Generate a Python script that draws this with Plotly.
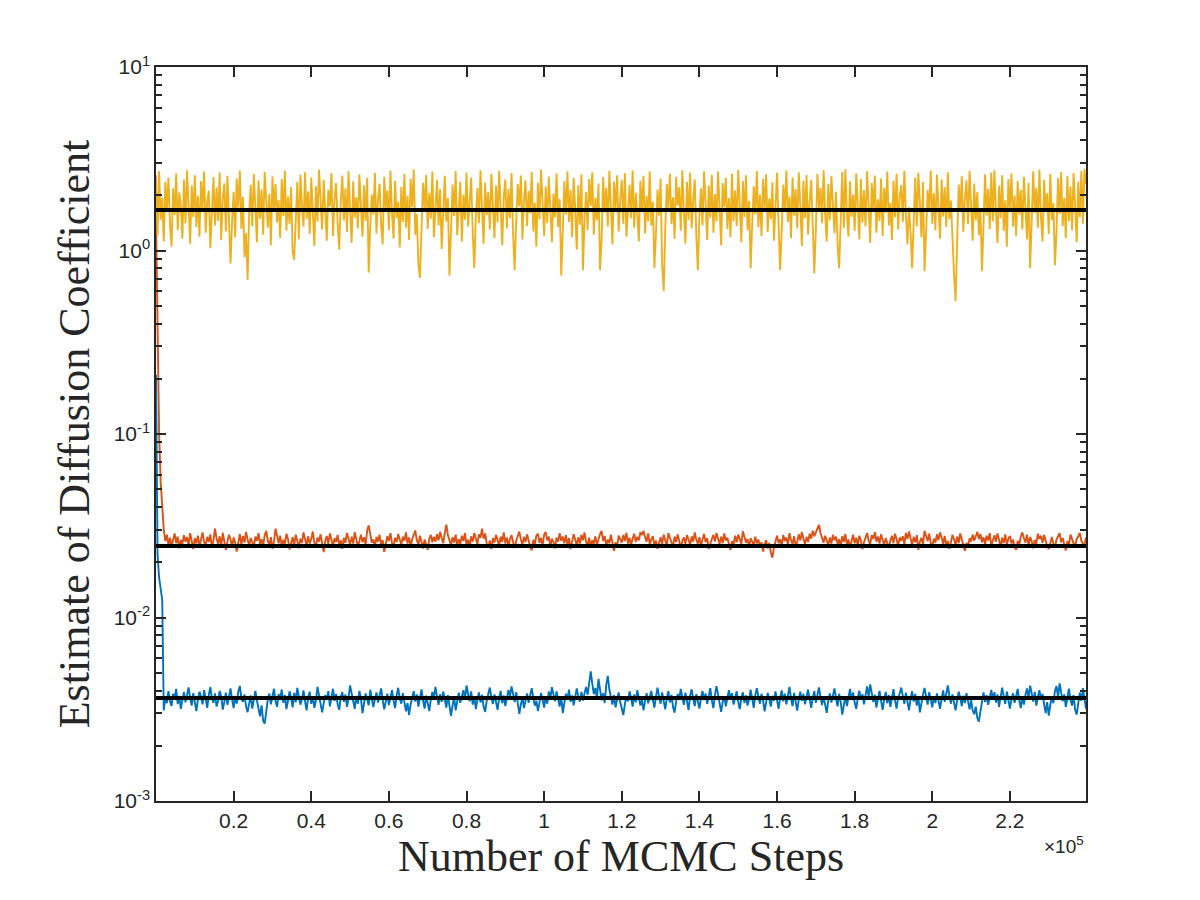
import plotly.graph_objects as go

# thinned MCMC chains: one stored sample every `thin` steps
thin = 400

blue = [0.21, 0.022, 0.0165, 0.0142, 0.0125, 0.00312, 0.00368, 0.00341, 0.00397, 0.00352, 0.00329, 0.00384, 0.00361, 0.00408, 0.00337, 0.00374, 0.00318, 0.00356, 0.00392, 0.00345,
        0.00379, 0.00416, 0.00363, 0.00331, 0.00387, 0.00349, 0.00309, 0.00358, 0.00394, 0.00371, 0.00336, 0.00402, 0.00355, 0.00322, 0.00377, 0.00418, 0.00364, 0.00343, 0.00386, 0.00327,
        0.00351, 0.00398, 0.00372, 0.00315, 0.00346, 0.00389, 0.00334, 0.00367, 0.00411, 0.00358, 0.00321, 0.00374, 0.00339, 0.00395, 0.00424, 0.00362, 0.00347, 0.00381, 0.00328, 0.00305,
        0.00342, 0.00376, 0.00319, 0.00364, 0.00398, 0.00353, 0.00311, 0.00289, 0.00332, 0.00274, 0.00264, 0.00318, 0.00357, 0.00385, 0.00336, 0.00371, 0.00409, 0.00348, 0.00326, 0.00383,
        0.00361, 0.00405, 0.00343, 0.00378, 0.00317, 0.00352, 0.00396, 0.00366, 0.00324, 0.00389, 0.00345, 0.00413, 0.00372, 0.00335, 0.00359, 0.00401, 0.00349, 0.00312, 0.00368, 0.00394,
        0.00338, 0.00373, 0.00322, 0.00354, 0.00419, 0.00382, 0.00346, 0.00304, 0.00341, 0.00377, 0.00359, 0.00397, 0.00328, 0.00365, 0.00409, 0.00351, 0.00383, 0.00337, 0.00314, 0.00369,
        0.00392, 0.00347, 0.00381, 0.00326, 0.00363, 0.00427, 0.00384, 0.00352, 0.00318, 0.00374, 0.00339, 0.00398, 0.00362, 0.00301, 0.00345, 0.00386, 0.00357, 0.00332, 0.00404, 0.00368,
        0.00325, 0.00359, 0.00391, 0.00344, 0.00379, 0.00411, 0.00356, 0.00316, 0.00348, 0.00385, 0.00333, 0.00367, 0.00402, 0.00353, 0.00321, 0.00376, 0.00414, 0.00362, 0.00339, 0.00387,
        0.00351, 0.00308, 0.00342, 0.00295, 0.00336, 0.00372, 0.00397, 0.00348, 0.00381, 0.00327, 0.00363, 0.00406, 0.00354, 0.00319, 0.00375, 0.00342, 0.00309, 0.00358, 0.00393, 0.00366,
        0.00418, 0.00371, 0.00334, 0.00382, 0.00347, 0.00395, 0.00361, 0.00323, 0.00378, 0.00339, 0.00291, 0.00331, 0.00368, 0.00312, 0.00354, 0.00389, 0.00343, 0.00376, 0.00402, 0.00357,
        0.00426, 0.00384, 0.00349, 0.00396, 0.00335, 0.00373, 0.00317, 0.00358, 0.00391, 0.00344, 0.00379, 0.00326, 0.00306, 0.00352, 0.00387, 0.00415, 0.00366, 0.00338, 0.00381, 0.00347,
        0.00314, 0.00363, 0.00398, 0.00341, 0.00376, 0.00329, 0.00357, 0.00403, 0.00371, 0.00421, 0.00383, 0.00346, 0.00392, 0.00337, 0.00298, 0.00335, 0.00369, 0.00321, 0.00358, 0.00386,
        0.00343, 0.00378, 0.00412, 0.00364, 0.00331, 0.00352, 0.00309, 0.00344, 0.00388, 0.00356, 0.00323, 0.00373, 0.00339, 0.00395, 0.00362, 0.00417, 0.00381, 0.00349, 0.00396, 0.00358,
        0.00327, 0.00371, 0.00301, 0.00342, 0.00384, 0.00359, 0.00405, 0.00347, 0.00376, 0.00332, 0.00364, 0.00411, 0.00372, 0.00348, 0.00393, 0.00353, 0.00386, 0.00418, 0.00379, 0.00452,
        0.00509, 0.00436, 0.00382, 0.00413, 0.00361, 0.00463, 0.00398, 0.00354, 0.00387, 0.00342, 0.00429, 0.00481, 0.00405, 0.00368, 0.00335, 0.00377, 0.00324, 0.00359, 0.00391, 0.00346,
        0.00318, 0.00294, 0.00337, 0.00372, 0.00349, 0.00396, 0.00363, 0.00327, 0.00381, 0.00345, 0.00402, 0.00366, 0.00331, 0.00357, 0.00312, 0.00352, 0.00387, 0.00341, 0.00374, 0.00398,
        0.00356, 0.00323, 0.00368, 0.00415, 0.00373, 0.00339, 0.00391, 0.00352, 0.00316, 0.00362, 0.00397, 0.00344, 0.00379, 0.00326, 0.00303, 0.00348, 0.00383, 0.00359, 0.00408, 0.00367,
        0.00334, 0.00389, 0.00352, 0.00313, 0.00375, 0.00406, 0.00361, 0.00329, 0.00382, 0.00347, 0.00319, 0.00364, 0.00398, 0.00355, 0.00386, 0.00338, 0.00371, 0.00412, 0.00353, 0.00321,
        0.00378, 0.00423, 0.00381, 0.00344, 0.00306, 0.00347, 0.00373, 0.00328, 0.00366, 0.00402, 0.00359, 0.00387, 0.00335, 0.00371, 0.00396, 0.00348, 0.00317, 0.00363, 0.00391, 0.00342,
        0.00376, 0.00331, 0.00358, 0.00404, 0.00365, 0.00322, 0.00379, 0.00412, 0.00368, 0.00339, 0.00384, 0.00352, 0.00308, 0.00345, 0.00388, 0.00361, 0.00327, 0.00374, 0.00352, 0.00395,
        0.00357, 0.00318, 0.00366, 0.00401, 0.00349, 0.00385, 0.00336, 0.00372, 0.00419, 0.00362, 0.00329, 0.00388, 0.00345, 0.00311, 0.00358, 0.00394, 0.00351, 0.00383, 0.00337, 0.00369,
        0.00405, 0.00358, 0.00322, 0.00364, 0.00397, 0.00343, 0.00381, 0.00416, 0.00367, 0.00333, 0.00371, 0.00339, 0.00302, 0.00351, 0.00386, 0.00344, 0.00376, 0.00411, 0.00362, 0.00328,
        0.00384, 0.00347, 0.00296, 0.00338, 0.00373, 0.00329, 0.00366, 0.00408, 0.00355, 0.00391, 0.00344, 0.00318, 0.00363, 0.00399, 0.00357, 0.00382, 0.00336, 0.00375, 0.00421, 0.00369,
        0.00432, 0.00387, 0.00346, 0.00379, 0.00323, 0.00361, 0.00398, 0.00352, 0.00314, 0.00357, 0.00393, 0.00341, 0.00378, 0.00326, 0.00365, 0.00407, 0.00352, 0.00319, 0.00368, 0.00384,
        0.00415, 0.00372, 0.00338, 0.00389, 0.00354, 0.00312, 0.00361, 0.00396, 0.00348, 0.00383, 0.00331, 0.00369, 0.00304, 0.00346, 0.00381, 0.00413, 0.00364, 0.00335, 0.00392, 0.00355,
        0.00324, 0.00371, 0.00342, 0.00386, 0.00357, 0.00318, 0.00363, 0.00401, 0.00347, 0.00389, 0.00426, 0.00374, 0.00339, 0.00381, 0.00345, 0.00312, 0.00352, 0.00394, 0.00366, 0.00329,
        0.00375, 0.00342, 0.00387, 0.00351, 0.00316, 0.00356, 0.00311, 0.00297, 0.00327, 0.00283, 0.00271, 0.00308, 0.00352, 0.00391, 0.00346, 0.00377, 0.00334, 0.00369, 0.00403, 0.00358,
        0.00392, 0.00344, 0.00381, 0.00326, 0.00363, 0.00415, 0.00371, 0.00338, 0.00395, 0.00352, 0.00319, 0.00361, 0.00386, 0.00343, 0.00377, 0.00408, 0.00354, 0.00321, 0.00368, 0.00335,
        0.00379, 0.00411, 0.00362, 0.00425, 0.00387, 0.00348, 0.00393, 0.00331, 0.00369, 0.00402, 0.00356, 0.00384, 0.00337, 0.00301, 0.00346, 0.00292, 0.00333, 0.00372, 0.00341, 0.00398,
        0.00423, 0.00367, 0.00438, 0.00395, 0.00349, 0.00381, 0.00326, 0.00364, 0.00409, 0.00357, 0.00331, 0.00378, 0.00314, 0.00296, 0.00343, 0.00389, 0.00352, 0.00412, 0.00361, 0.00318]

orange = [1.55, 0.3, 0.1, 0.055, 0.038, 0.0302, 0.0261, 0.0283, 0.0249, 0.0272, 0.0243, 0.0268, 0.0287, 0.0254, 0.0276, 0.0238, 0.0265, 0.0251, 0.0281, 0.0259,
          0.0274, 0.0246, 0.0288, 0.0262, 0.0236, 0.0271, 0.0253, 0.0279, 0.0244, 0.0266, 0.0291, 0.0257, 0.0248, 0.0275, 0.0258, 0.0284, 0.0241, 0.0263, 0.0305, 0.0269,
          0.0252, 0.0277, 0.0245, 0.0289, 0.0264, 0.0233, 0.0259, 0.0282, 0.0267, 0.0242, 0.0273, 0.0255, 0.0229, 0.0261, 0.0285, 0.0249, 0.0278, 0.0256, 0.0293, 0.0266,
          0.0247, 0.0271, 0.0258, 0.0239, 0.0276, 0.0262, 0.0288, 0.0251, 0.0268, 0.0244, 0.0281, 0.0296, 0.0263, 0.0248, 0.0274, 0.0237, 0.0259, 0.0305, 0.0272, 0.0254,
          0.0279, 0.0243, 0.0265, 0.0252, 0.0286, 0.0268, 0.0235, 0.0257, 0.0274, 0.0247, 0.0283, 0.0261, 0.0238, 0.0269, 0.0255, 0.0291, 0.0264, 0.0246, 0.0277, 0.0253,
          0.0268, 0.0294, 0.0256, 0.0241, 0.0273, 0.0259, 0.0284, 0.0249, 0.0227, 0.0262, 0.0278, 0.0251, 0.0287, 0.0266, 0.0243, 0.0271, 0.0258, 0.0282, 0.0246, 0.0264,
          0.0237, 0.0272, 0.0255, 0.0289, 0.0263, 0.0248, 0.0276, 0.0253, 0.0292, 0.0269, 0.0244, 0.0261, 0.0283, 0.0257, 0.0274, 0.0248, 0.0297, 0.0318, 0.0279, 0.0256,
          0.0266, 0.0242, 0.0275, 0.0259, 0.0283, 0.0247, 0.0264, 0.0228, 0.0252, 0.0277, 0.0261, 0.0288, 0.0254, 0.0243, 0.0272, 0.0258, 0.0285, 0.0267, 0.0249, 0.0276,
          0.0262, 0.0291, 0.0253, 0.0273, 0.0245, 0.0268, 0.0286, 0.0298, 0.0264, 0.0251, 0.0279, 0.0255, 0.0238, 0.0266, 0.0248, 0.0234, 0.0269, 0.0282, 0.0257, 0.0275,
          0.0259, 0.0284, 0.0263, 0.0293, 0.0271, 0.0254, 0.0289, 0.0321, 0.0281, 0.0262, 0.0249, 0.0274, 0.0256, 0.0283, 0.0244, 0.0267, 0.0252, 0.0279, 0.0261, 0.0288,
          0.0248, 0.0266, 0.0243, 0.0277, 0.0259, 0.0289, 0.0265, 0.0251, 0.0284, 0.0272, 0.0305, 0.0269, 0.0287, 0.0254, 0.0241, 0.0263, 0.0236, 0.0271, 0.0256, 0.0282,
          0.0264, 0.0247, 0.0276, 0.0258, 0.0291, 0.0253, 0.0273, 0.0245, 0.0268, 0.0281, 0.0257, 0.0239, 0.0262, 0.0278, 0.0294, 0.0266, 0.0249, 0.0275, 0.0258, 0.0284,
          0.0261, 0.0243, 0.0232, 0.0265, 0.0251, 0.0279, 0.0286, 0.0255, 0.0272, 0.0247, 0.0283, 0.0292, 0.0263, 0.0276, 0.0244, 0.0269, 0.0257, 0.0238, 0.0273, 0.0259,
          0.0288, 0.0262, 0.0276, 0.0254, 0.0281, 0.0249, 0.0271, 0.0236, 0.0259, 0.0284, 0.0267, 0.0245, 0.0274, 0.0253, 0.0282, 0.0263, 0.0291, 0.0258, 0.0247, 0.0272,
          0.0243, 0.0264, 0.0252, 0.0277, 0.0249, 0.0268, 0.0285, 0.0296, 0.0261, 0.0278, 0.0246, 0.0266, 0.0254, 0.0283, 0.0259, 0.0231, 0.0257, 0.0244, 0.0279, 0.0267,
          0.0256, 0.0282, 0.0261, 0.0289, 0.0253, 0.0272, 0.0248, 0.0269, 0.0286, 0.0258, 0.0275, 0.0263, 0.0292, 0.0281, 0.0297, 0.0274, 0.0259, 0.0287, 0.0251, 0.0266,
          0.0278, 0.0245, 0.0263, 0.0237, 0.0256, 0.0274, 0.0251, 0.0283, 0.0262, 0.0247, 0.0288, 0.0269, 0.0255, 0.0243, 0.0276, 0.0258, 0.0284, 0.0264, 0.0239, 0.0261,
          0.0273, 0.0252, 0.0281, 0.0266, 0.0248, 0.0277, 0.0259, 0.0291, 0.0265, 0.0253, 0.0274, 0.0246, 0.0262, 0.0285, 0.0257, 0.0271, 0.0236, 0.0255, 0.0268, 0.0282,
          0.0259, 0.0289, 0.0264, 0.0251, 0.0276, 0.0254, 0.0287, 0.0263, 0.0272, 0.0248, 0.0233, 0.0261, 0.0249, 0.0279, 0.0257, 0.0283, 0.0266, 0.0252, 0.0295, 0.0274,
          0.0256, 0.0268, 0.0243, 0.0271, 0.0259, 0.0248, 0.0276, 0.0253, 0.0266, 0.0244, 0.0257, 0.0229, 0.0251, 0.0264, 0.0238, 0.0255, 0.0226, 0.0212, 0.0241, 0.0263,
          0.0279, 0.0254, 0.0267, 0.0246, 0.0282, 0.0261, 0.0273, 0.0249, 0.0288, 0.0265, 0.0251, 0.0277, 0.0244, 0.0258, 0.0284, 0.0263, 0.0293, 0.0268, 0.0252, 0.0275,
          0.0258, 0.0286, 0.0269, 0.0297, 0.0277, 0.0291, 0.0308, 0.032, 0.0289, 0.0271, 0.0256, 0.0279, 0.0262, 0.0248, 0.0273, 0.0253, 0.0282, 0.0264, 0.0276, 0.0251,
          0.0267, 0.0244, 0.0278, 0.0258, 0.0285, 0.0249, 0.0266, 0.0239, 0.0261, 0.0283, 0.0254, 0.0272, 0.0247, 0.0279, 0.0263, 0.0236, 0.0257, 0.0274, 0.0289, 0.0262,
          0.0251, 0.0281, 0.0268, 0.0292, 0.0259, 0.0276, 0.0253, 0.0284, 0.0265, 0.0248, 0.0271, 0.0257, 0.0239, 0.0263, 0.0279, 0.0254, 0.0286, 0.0267, 0.0245, 0.0273,
          0.0262, 0.0277, 0.0252, 0.0289, 0.0268, 0.0294, 0.0263, 0.0248, 0.0275, 0.0257, 0.0281, 0.0234, 0.0259, 0.0272, 0.0249, 0.0297, 0.0278, 0.0261, 0.0286, 0.0255,
          0.0243, 0.0269, 0.0256, 0.0284, 0.0264, 0.0291, 0.0273, 0.0252, 0.0278, 0.0246, 0.0261, 0.0237, 0.0258, 0.0282, 0.0267, 0.0249, 0.0276, 0.0254, 0.0287, 0.0265,
          0.0248, 0.0231, 0.0255, 0.0242, 0.0271, 0.0259, 0.0283, 0.0262, 0.0277, 0.0293, 0.0268, 0.0285, 0.0257, 0.0274, 0.0251, 0.0279, 0.0263, 0.0288, 0.0246, 0.0267,
          0.0281, 0.0259, 0.0287, 0.0264, 0.0243, 0.0272, 0.0255, 0.0284, 0.0248, 0.0269, 0.0278, 0.0253, 0.0266, 0.0241, 0.0234, 0.0262, 0.0249, 0.0276, 0.0291, 0.0271,
          0.0256, 0.0283, 0.0247, 0.0274, 0.0261, 0.0238, 0.0265, 0.0252, 0.0286, 0.0268, 0.0279, 0.0255, 0.0282, 0.0263, 0.0244, 0.0236, 0.0258, 0.0275, 0.0251, 0.0242,
          0.0266, 0.0279, 0.0288, 0.0257, 0.0271, 0.0249, 0.0232, 0.0261, 0.0247, 0.0283, 0.0264, 0.0253, 0.0245, 0.0268, 0.0276, 0.0289, 0.0262, 0.0251, 0.0248, 0.0273]

yellow = [2.58, 1.21, 2.71, 1.47, 1.93, 1.12, 2.36, 1.64, 2.49, 1.38, 1.05, 2.18, 1.56, 2.63, 1.29, 2.07, 1.73, 1.16, 2.44, 1.41,
          2.74, 1.88, 1.09, 2.26, 1.52, 2.57, 1.34, 1.98, 1.19, 2.39, 1.67, 2.69, 1.25, 1.84, 2.12, 1.03, 1.59, 2.51, 1.37, 2.21,
          1.45, 2.66, 1.14, 1.91, 2.32, 1.27, 2.55, 1.62, 0.85, 1.43, 2.09, 1.18, 2.47, 1.71, 2.73, 1.31, 1.96, 0.92, 1.24, 0.69,
          1.58, 2.28, 1.36, 2.61, 1.79, 1.11, 2.41, 1.49, 2.15, 1.22, 2.68, 1.85, 1.33, 2.04, 1.07, 2.53, 1.66, 2.30, 1.42, 1.89,
          1.17, 2.45, 1.54, 2.72, 1.28, 1.97, 1.40, 2.21, 0.98, 0.89, 1.61, 2.37, 1.15, 2.59, 1.76, 1.35, 2.67, 1.48, 2.10, 1.23,
          2.50, 1.69, 1.06, 2.24, 1.44, 2.75, 1.81, 1.30, 2.42, 1.55, 1.13, 2.14, 1.74, 2.64, 1.20, 1.92, 2.33, 1.39, 1.01, 1.86,
          2.56, 1.46, 2.18, 1.26, 2.70, 1.63, 1.10, 2.38, 1.51, 1.95, 1.32, 2.60, 1.78, 1.19, 2.27, 1.45, 2.48, 0.76, 1.36, 2.02,
          1.57, 2.65, 1.24, 1.90, 2.31, 1.38, 1.08, 2.52, 1.70, 2.13, 1.29, 2.73, 1.60, 1.16, 2.40, 1.50, 1.85, 1.04, 2.22, 1.43,
          2.62, 1.33, 1.99, 1.14, 2.46, 1.72, 2.77, 1.22, 1.58, 0.84, 0.71, 1.40, 2.34, 1.67, 2.58, 1.31, 2.06, 1.49, 2.69, 1.18,
          1.83, 2.43, 1.37, 2.16, 1.02, 1.65, 2.55, 1.44, 1.93, 0.73, 1.28, 2.29, 1.54, 2.71, 1.21, 1.77, 2.37, 1.12, 2.01, 1.47,
          2.66, 1.35, 1.87, 2.50, 1.25, 0.80, 1.53, 2.19, 1.41, 2.74, 1.69, 1.09, 2.35, 1.56, 2.08, 1.30, 2.61, 1.80, 1.17, 2.26,
          1.42, 2.72, 1.61, 1.07, 1.96, 2.44, 1.32, 2.17, 1.50, 2.64, 1.23, 0.78, 1.45, 2.30, 1.74, 2.56, 1.15, 1.89, 2.41, 1.36,
          2.11, 1.59, 2.68, 1.27, 1.82, 1.05, 2.34, 1.48, 2.76, 1.63, 1.20, 2.23, 1.41, 2.53, 1.73, 1.11, 2.04, 1.52, 2.63, 1.34,
          1.91, 0.73, 1.26, 2.39, 1.57, 2.70, 1.43, 2.14, 1.18, 2.48, 1.66, 1.01, 2.27, 1.38, 2.60, 0.78, 1.49, 2.09, 1.29, 2.45,
          1.75, 2.67, 1.22, 1.94, 1.46, 2.32, 0.78, 1.14, 2.51, 1.61, 2.20, 1.35, 2.72, 1.53, 1.08, 2.37, 1.70, 2.57, 1.27, 1.88,
          2.43, 1.40, 2.64, 1.19, 1.81, 2.28, 1.50, 2.73, 1.33, 2.06, 1.58, 1.12, 2.40, 1.64, 2.55, 1.24, 1.98, 1.44, 2.70, 1.37,
          1.85, 0.80, 1.23, 2.15, 1.55, 2.47, 0.83, 0.60, 1.30, 2.31, 1.68, 2.62, 1.39, 1.95, 1.16, 2.52, 1.76, 2.21, 1.28, 2.74,
          1.62, 1.09, 2.36, 1.47, 2.66, 1.32, 1.89, 2.44, 1.21, 0.78, 1.54, 2.18, 1.37, 2.70, 1.80, 1.14, 2.26, 1.51, 2.58, 1.25,
          2.03, 1.44, 2.69, 1.60, 1.07, 2.33, 1.72, 2.49, 1.31, 1.93, 1.18, 2.63, 1.45, 2.12, 1.36, 2.75, 1.67, 1.11, 2.39, 1.52,
          2.57, 1.29, 1.86, 0.80, 1.40, 2.24, 1.57, 2.71, 1.34, 2.01, 1.20, 2.46, 1.70, 2.60, 1.26, 1.92, 1.48, 2.35, 1.13, 1.78,
          2.65, 1.38, 0.78, 1.27, 2.28, 1.63, 2.73, 1.43, 1.97, 1.17, 2.50, 1.55, 2.16, 1.32, 2.67, 1.74, 1.06, 2.40, 1.50, 2.58,
          1.22, 1.84, 2.42, 1.36, 0.75, 1.30, 2.61, 1.69, 2.20, 1.41, 2.74, 1.57, 1.12, 2.31, 1.46, 2.54, 1.79, 1.24, 2.09, 1.07,
          0.80, 1.49, 2.68, 1.33, 2.77, 1.60, 1.19, 2.38, 1.53, 2.02, 1.28, 2.63, 1.75, 1.15, 2.45, 1.42, 2.13, 1.35, 2.70, 1.58,
          1.10, 2.33, 1.66, 2.56, 1.25, 1.90, 1.45, 2.47, 1.20, 2.19, 1.61, 2.69, 1.37, 1.82, 1.14, 2.40, 1.52, 2.62, 1.30, 1.96,
          2.27, 1.43, 2.72, 1.56, 1.08, 1.72, 1.27, 0.80, 1.47, 2.50, 1.35, 2.65, 1.83, 1.18, 2.36, 0.77, 1.24, 2.14, 1.62, 2.73,
          1.40, 2.05, 1.29, 2.59, 1.71, 1.16, 2.44, 1.53, 2.22, 1.34, 2.67, 1.48, 1.87, 1.06, 0.74, 0.53, 1.32, 2.29, 1.64, 2.54,
          1.26, 1.94, 2.41, 1.39, 2.71, 1.59, 1.13, 2.32, 1.46, 2.08, 1.21, 1.68, 0.77, 1.37, 2.60, 1.55, 2.17, 1.31, 2.66, 1.44,
          2.74, 1.62, 1.10, 2.25, 1.50, 2.57, 1.28, 1.88, 1.05, 2.45, 1.70, 2.63, 1.35, 1.99, 1.20, 2.39, 1.57, 2.14, 1.30, 2.52,
          1.76, 1.15, 2.34, 0.80, 1.42, 2.70, 1.60, 2.19, 1.33, 2.76, 1.51, 1.12, 2.42, 1.65, 2.05, 1.23, 2.61, 1.47, 1.81, 0.83,
          1.27, 2.48, 1.58, 2.68, 1.36, 1.93, 1.17, 2.55, 1.45, 2.23, 1.29, 2.64, 1.73, 1.11, 2.37, 1.52, 2.72, 1.40, 2.79, 2.30]

# reference (true) diffusion coefficients drawn as black lines
true_values = [0.00364, 0.0245, 1.66]

steps = [thin * i for i in range(max(len(blue), len(orange), len(yellow)))]

colors = ['#0072BD', '#D95319', '#EDB120']
axis_color = '#262626'

fig = go.Figure()
for chain, col in zip([blue, orange, yellow], colors):
    fig.add_trace(go.Scatter(x=steps[:len(chain)], y=chain, mode='lines',
                             line=dict(color=col, width=1.9), showlegend=False))
for val in true_values:
    fig.add_trace(go.Scatter(x=[steps[0], steps[-1]], y=[val, val], mode='lines',
                             line=dict(color='black', width=4), showlegend=False))

x_ticks = [20000, 40000, 60000, 80000, 100000, 120000, 140000, 160000, 180000, 200000, 220000]
x_labels = ['0.2', '0.4', '0.6', '0.8', '1', '1.2', '1.4', '1.6', '1.8', '2', '2.2']
y_ticks = [1e-3, 1e-2, 1e-1, 1, 10]
y_labels = ['10<sup>-3</sup>', '10<sup>-2</sup>', '10<sup>-1</sup>', '10<sup>0</sup>', '10<sup>1</sup>']
y_minor = [m * 10 ** e for e in range(-3, 1) for m in range(2, 10)]

tick_font = dict(family='Liberation Sans, Arial, sans-serif', size=21, color=axis_color)
title_font = dict(family='Liberation Serif, Times New Roman, serif', size=44, color=axis_color)

# page body has an 8px margin, so the figure is a bit smaller than the window
fig.update_layout(
    width=1192, height=892,
    margin=dict(l=148, r=114, t=59, b=99),
    paper_bgcolor='white', plot_bgcolor='white',
    xaxis=dict(range=[steps[0], steps[-1]], tickmode='array', tickvals=x_ticks, ticktext=x_labels,
               ticks='inside', ticklen=10, tickwidth=1.5, tickcolor=axis_color,
               showline=True, linecolor=axis_color, linewidth=1.5, mirror='ticks',
               showgrid=False, zeroline=False, tickfont=tick_font,
               title=dict(text='Number of MCMC Steps', font=title_font, standoff=6)),
    yaxis=dict(type='log', range=[-3, 1], tickmode='array', tickvals=y_ticks, ticktext=y_labels,
               ticks='inside', ticklen=10, tickwidth=1.5, tickcolor=axis_color,
               minor=dict(tickmode='array', tickvals=y_minor, ticks='inside', ticklen=6,
                          tickwidth=1.5, tickcolor=axis_color),
               showline=True, linecolor=axis_color, linewidth=1.5, mirror='ticks',
               showgrid=False, zeroline=False, tickfont=tick_font,
               title=dict(text='Estimate of Diffusion Coefficient', font=title_font, standoff=10)),
)

fig.add_annotation(text='\u00d710<sup>5</sup>', xref='paper', yref='paper', x=1, y=0,
                   xanchor='right', yanchor='top', yshift=-30, showarrow=False,
                   font=dict(family='Liberation Sans, Arial, sans-serif', size=19, color=axis_color))

fig.write_html('out.html')
